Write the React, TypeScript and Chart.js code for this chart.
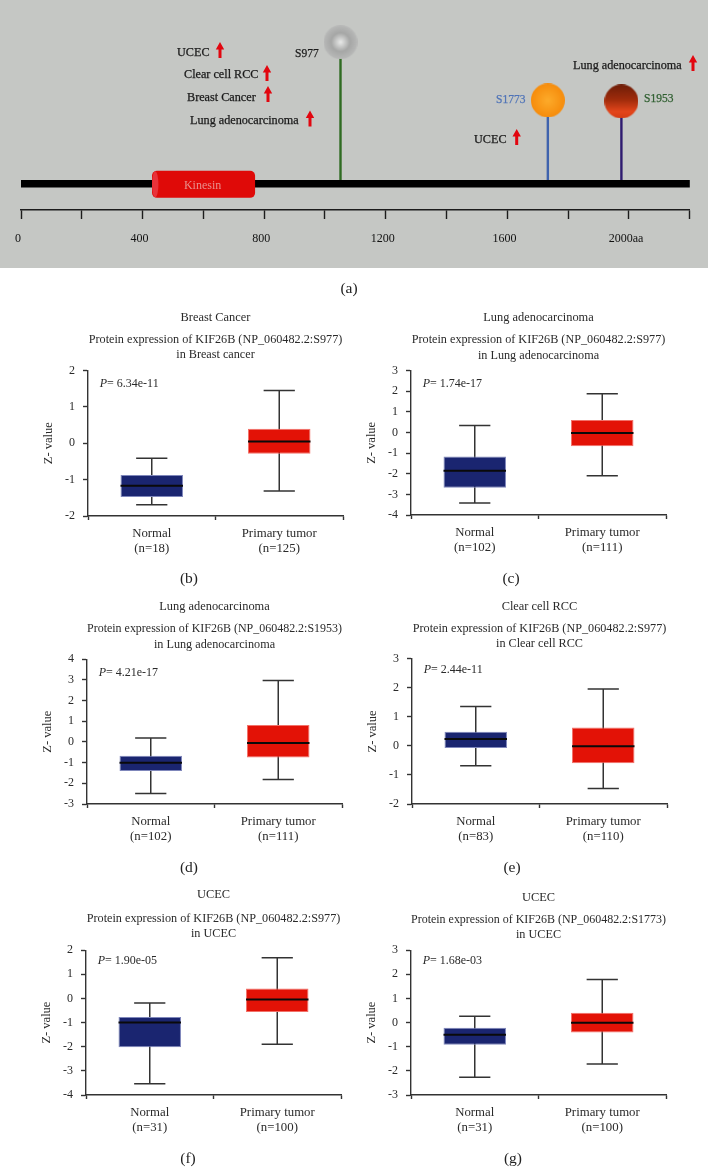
import React, { useEffect, useRef } from "react";
import { Chart, registerables } from "chart.js";

Chart.register(...registerables);

const FONT = "'Liberation Serif', serif";
const INK = "#2a2a2a";

// Panel (a): protein map, amino-acid positions
const kinesinDomain = [431, 770];
const proteinLength = 2200;
const siteNames = ["S977", "S1773", "S1953"];
const sitePositions = [1051, 1733, 1975];
const siteHeights = [141, 83, 82];
const siteStemColors = ["#2f6b22", "#3f63ad", "#2f1b70"];

// Box plots: [lower whisker, Q1, median, Q3, upper whisker]
const categories = ["Normal", "Primary tumor"];
const bNormal = [-1.69, -1.48, -1.17, -0.87, -0.41];
const bTumor = [-1.31, -0.29, 0.05, 0.40, 1.45];
const cNormal = [-3.42, -2.68, -1.85, -1.16, 0.34];
const cTumor = [-2.10, -0.67, -0.02, 0.61, 1.88];
const dNormal = [-2.49, -1.40, -1.01, -0.66, 0.19];
const dTumor = [-1.81, -0.75, -0.05, 0.82, 2.97];
const eNormal = [-0.68, -0.07, 0.24, 0.49, 1.36];
const eTumor = [-1.47, -0.60, -0.01, 0.63, 1.96];
const fNormal = [-3.53, -2.02, -1.0, -0.77, -0.19];
const fTumor = [-1.90, -0.56, -0.04, 0.41, 1.69];
const gNormal = [-2.26, -0.92, -0.50, -0.21, 0.26];
const gTumor = [-1.72, -0.41, -0.01, 0.41, 1.79];

const panels = [
  { name: "Breast Cancer", sub: ["Protein expression of KIF26B (NP_060482.2:S977)", "in Breast cancer"], n: [18, 125], p: "6.34e-11", range: [-2, 2], normal: bNormal, tumor: bTumor,
    L: 88.3, R: 344, T: 370, B: 515.5, t1: 317, s1: 339, s2: 354, pY: 13 },
  { name: "Lung adenocarcinoma", sub: ["Protein expression of KIF26B (NP_060482.2:S977)", "in Lung adenocarcinoma"], n: [102, 111], p: "1.74e-17", range: [-4, 3], normal: cNormal, tumor: cTumor,
    L: 411.3, R: 666.7, T: 369.7, B: 515.3, t1: 317, s1: 339, s2: 355, pY: 13 },
  { name: "Lung adenocarcinoma", sub: ["Protein expression of KIF26B (NP_060482.2:S1953)", "in Lung adenocarcinoma"], n: [102, 111], p: "4.21e-17", range: [-3, 4], normal: dNormal, tumor: dTumor,
    L: 87.3, R: 342.7, T: 658.3, B: 804, t1: 606, s1: 628, s2: 644, pY: 13.7 },
  { name: "Clear cell RCC", sub: ["Protein expression of KIF26B (NP_060482.2:S977)", "in Clear cell RCC"], n: [83, 110], p: "2.44e-11", range: [-2, 3], normal: eNormal, tumor: eTumor,
    L: 412.3, R: 668, T: 658.3, B: 804, t1: 606, s1: 628, s2: 643, pY: 10.7 },
  { name: "UCEC", sub: ["Protein expression of KIF26B (NP_060482.2:S977)", "in UCEC"], n: [31, 100], p: "1.90e-05", range: [-4, 2], normal: fNormal, tumor: fTumor,
    L: 86.3, R: 342, T: 949.7, B: 1095.3, t1: 894, s1: 918, s2: 933, pY: 10.3 },
  { name: "UCEC", sub: ["Protein expression of KIF26B (NP_060482.2:S1773)", "in UCEC"], n: [31, 100], p: "1.68e-03", range: [-3, 3], normal: gNormal, tumor: gTumor,
    L: 411, R: 666.7, T: 949.7, B: 1095.3, t1: 897, s1: 919, s2: 934, pY: 10.3 },
];

const captions = [
  ["(a)", 349, 288], ["(b)", 189, 578], ["(c)", 511, 578], ["(d)", 189, 867],
  ["(e)", 512, 867], ["(f)", 188, 1158], ["(g)", 513, 1158],
] as const;

const annotations = [
  { text: "UCEC", x: 177, y: 52.7, arrow: 220, ay: 42 },
  { text: "Clear cell RCC", x: 184, y: 74.7, arrow: 267, ay: 65 },
  { text: "Breast Cancer", x: 187, y: 97.7, arrow: 268, ay: 86 },
  { text: "Lung adenocarcinoma", x: 190, y: 120.7, arrow: 310, ay: 110.5 },
  { text: "UCEC", x: 474, y: 139.7, arrow: 516.7, ay: 129 },
  { text: "Lung adenocarcinoma", x: 573, y: 65.7, arrow: 693, ay: 55 },
];
const siteLabels = [
  { x: 295, y: 53.5, color: "#1d1d1d" },
  { x: 496, y: 99.5, color: "#5074b8" },
  { x: 644, y: 98.5, color: "#2f5f30" },
];

function headImage(i: number) {
  const r = 17;
  const cv = document.createElement("canvas");
  cv.width = r * 2;
  cv.height = r * 2;
  const ctx = cv.getContext("2d") as CanvasRenderingContext2D;
  let g: CanvasGradient;
  if (i === 0) {
    g = ctx.createRadialGradient(r, r, 0, r, r, r);
    g.addColorStop(0, "#e9eae9");
    g.addColorStop(0.55, "#a6a7a6");
    g.addColorStop(1, "#b8b9b8");
  } else if (i === 1) {
    g = ctx.createRadialGradient(r, r, 0, r, r, r);
    g.addColorStop(0, "#fdab2a");
    g.addColorStop(1, "#f68c0c");
  } else {
    g = ctx.createLinearGradient(0, 0, 0, r * 2);
    g.addColorStop(0, "#6d1d08");
    g.addColorStop(0.45, "#a02c0c");
    g.addColorStop(0.8, "#e4461c");
    g.addColorStop(1, "#d43c14");
  }
  ctx.fillStyle = g;
  ctx.beginPath();
  ctx.arc(r, r, r, 0, Math.PI * 2);
  ctx.fill();
  return cv;
}

const proteinPlugin = {
  id: "protein",
  beforeDraw(chart: any) {
    const ctx = chart.ctx;
    ctx.save();
    ctx.fillStyle = "#c5c7c4";
    ctx.fillRect(0, 0, chart.width, chart.height);
    ctx.restore();
  },
  afterDatasetsDraw(chart: any) {
    const ctx = chart.ctx;
    const x = chart.scales.x;
    const y = chart.scales.y;
    const x0 = x.getPixelForValue(kinesinDomain[0]);
    const x1 = x.getPixelForValue(kinesinDomain[1]);
    const yc = y.getPixelForValue(0) + 0.5;
    ctx.save();
    ctx.fillStyle = "#df0a08";
    ctx.beginPath();
    ctx.roundRect(x0, yc - 13.5, x1 - x0, 27, 5);
    ctx.fill();
    ctx.fillStyle = "#e8323a";
    ctx.beginPath();
    ctx.ellipse(x0 + 3.2, yc, 3.2, 13, 0, 0, Math.PI * 2);
    ctx.fill();
    ctx.font = `12px ${FONT}`;
    ctx.textAlign = "center";
    ctx.textBaseline = "middle";
    ctx.fillStyle = "#e98f8c";
    ctx.fillText("Kinesin", (x0 + x1) / 2 - 1, yc + 1);

    ctx.font = `12.2px ${FONT}`;
    ctx.textAlign = "left";
    ctx.lineWidth = 0.25;
    for (const a of annotations) {
      ctx.fillStyle = "#1a1a1a";
      ctx.strokeStyle = "#1a1a1a";
      ctx.fillText(a.text, a.x, a.y);
      ctx.strokeText(a.text, a.x, a.y);
      ctx.fillStyle = "#e2060f";
      ctx.beginPath();
      ctx.moveTo(a.arrow, a.ay);
      ctx.lineTo(a.arrow + 4.2, a.ay + 7.5);
      ctx.lineTo(a.arrow + 1.5, a.ay + 7.5);
      ctx.lineTo(a.arrow + 1.5, a.ay + 16);
      ctx.lineTo(a.arrow - 1.5, a.ay + 16);
      ctx.lineTo(a.arrow - 1.5, a.ay + 7.5);
      ctx.lineTo(a.arrow - 4.2, a.ay + 7.5);
      ctx.closePath();
      ctx.fill();
    }
    ctx.font = `11.5px ${FONT}`;
    siteNames.forEach((s, i) => {
      ctx.fillStyle = siteLabels[i].color;
      ctx.strokeStyle = siteLabels[i].color;
      ctx.fillText(s, siteLabels[i].x, siteLabels[i].y);
      ctx.strokeText(s, siteLabels[i].x, siteLabels[i].y);
    });
    ctx.restore();
  },
};

const boxPlugin = (pText: string, pY: number) => ({
  id: "box",
  beforeDatasetsDraw(chart: any) {
    const ctx = chart.ctx;
    const y = chart.scales.y;
    const meta = chart.getDatasetMeta(0);
    const stats = chart.data.datasets[0].stats;
    ctx.save();
    ctx.strokeStyle = "#333333";
    ctx.lineWidth = 1.5;
    meta.data.forEach((bar: any, i: number) => {
      const [lo, , , , hi] = stats[i];
      const cap = bar.width / 4;
      const yl = y.getPixelForValue(lo);
      const yh = y.getPixelForValue(hi);
      ctx.beginPath();
      ctx.moveTo(bar.x, yl);
      ctx.lineTo(bar.x, yh);
      ctx.moveTo(bar.x - cap, yl);
      ctx.lineTo(bar.x + cap, yl);
      ctx.moveTo(bar.x - cap, yh);
      ctx.lineTo(bar.x + cap, yh);
      ctx.stroke();
    });
    ctx.restore();
  },
  afterDatasetsDraw(chart: any) {
    const ctx = chart.ctx;
    const y = chart.scales.y;
    const meta = chart.getDatasetMeta(0);
    const stats = chart.data.datasets[0].stats;
    ctx.save();
    ctx.strokeStyle = "#0a0a0a";
    ctx.lineWidth = 2;
    meta.data.forEach((bar: any, i: number) => {
      const ym = y.getPixelForValue(stats[i][2]);
      ctx.beginPath();
      ctx.moveTo(bar.x - bar.width / 2, ym);
      ctx.lineTo(bar.x + bar.width / 2, ym);
      ctx.stroke();
    });
    const { left, top } = chart.chartArea;
    ctx.fillStyle = INK;
    ctx.textBaseline = "middle";
    ctx.textAlign = "left";
    ctx.font = `italic 12px ${FONT}`;
    ctx.fillText("P", left + 11.7, top + pY);
    const w = ctx.measureText("P").width;
    ctx.font = `12px ${FONT}`;
    ctx.fillText("= " + pText, left + 11.7 + w, top + pY);
    ctx.restore();
  },
});

function BoxPanel({ panel }: { panel: (typeof panels)[number] }) {
  const ref = useRef<HTMLCanvasElement>(null);
  const axisW = 50;
  const axisH = 45;
  const lh = 15;
  const canvasTop = panel.t1 - lh / 2;
  const canvasLeft = panel.L - axisW;
  const width = panel.R - canvasLeft + 20;
  const height = panel.B + axisH - canvasTop;
  useEffect(() => {
    const stats = [panel.normal, panel.tumor];
    const chart = new Chart(ref.current as HTMLCanvasElement, {
      type: "bar",
      data: {
        labels: categories.map((c, i) => [c, `(n=${panel.n[i]})`]),
        datasets: [
          {
            data: stats.map((s) => [s[1], s[3]]),
            stats,
            backgroundColor: ["#1a2570", "#e31206"],
            borderColor: ["#7f87bb", "#f2726a"],
            borderWidth: 1,
            borderSkipped: false,
            barPercentage: 0.49,
            categoryPercentage: 1,
          } as any,
        ],
      },
      options: {
        responsive: false,
        animation: false,
        devicePixelRatio: 1,
        layout: { padding: { left: 0, right: 20, top: 0, bottom: 0 } },
        plugins: {
          legend: { display: false },
          tooltip: { enabled: false },
          title: {
            display: true,
            text: panel.name,
            fullSize: false,
            color: INK,
            font: { family: FONT, size: 12.4, weight: "normal", lineHeight: lh / 12.4 },
            padding: { top: 0, bottom: panel.s1 - panel.t1 - lh },
          },
          subtitle: {
            display: true,
            text: panel.sub,
            fullSize: false,
            color: INK,
            font: { family: FONT, size: 12.2, weight: "normal", lineHeight: (panel.s2 - panel.s1) / 12.2 },
            padding: { top: 0, bottom: panel.T - panel.s2 - (panel.s2 - panel.s1) / 2 },
          },
        },
        scales: {
          x: {
            type: "category",
            afterFit: (s: any) => { s.height = axisH; },
            border: { color: "#333333", width: 1.4 },
            grid: { drawOnChartArea: false, tickLength: 4, tickColor: "#333333", tickWidth: 1.4 },
            ticks: { color: INK, padding: 6, maxRotation: 0, font: { family: FONT, size: 12.8, lineHeight: 15 / 12.8 } },
          },
          y: {
            type: "linear",
            min: panel.range[0],
            max: panel.range[1],
            afterFit: (s: any) => { s.width = axisW; },
            border: { color: "#333333", width: 1.4 },
            grid: { drawOnChartArea: false, tickLength: 5, tickColor: "#333333", tickWidth: 1.4 },
            ticks: { stepSize: 1, color: INK, padding: 8, font: { family: FONT, size: 12 } },
            title: { display: true, text: "Z- value", color: INK, padding: { top: 3, bottom: 0 }, font: { family: FONT, size: 12.5 } },
          },
        },
      },
      plugins: [boxPlugin(panel.p, panel.pY)],
    } as any);
    return () => chart.destroy();
  }, []);
  return (
    <canvas
      ref={ref}
      width={width}
      height={height}
      style={{ position: "absolute", left: canvasLeft, top: canvasTop, display: "block" }}
    />
  );
}

function ProteinPanel() {
  const ref = useRef<HTMLCanvasElement>(null);
  useEffect(() => {
    const stems = siteNames.map((name, i) => ({
      type: "line",
      label: name,
      data: [
        { x: sitePositions[i], y: 0 },
        { x: sitePositions[i], y: siteHeights[i] },
      ],
      borderColor: siteStemColors[i],
      borderWidth: 2.4,
      pointRadius: [0, 17],
      pointBorderWidth: 0,
      pointStyle: headImage(i),
      clip: false,
    }));
    const chart = new Chart(ref.current as HTMLCanvasElement, {
      type: "line",
      data: {
        datasets: [
          {
            label: "KIF26B",
            data: [
              { x: 0, y: 0 },
              { x: proteinLength, y: 0 },
            ],
            borderColor: "#000000",
            borderWidth: 7.5,
            pointRadius: 0,
            clip: false,
          },
          ...stems,
        ] as any,
      },
      options: {
        responsive: false,
        animation: false,
        devicePixelRatio: 1,
        layout: { padding: { left: 21, right: 708 - 689.8, top: 0, bottom: 0 } },
        plugins: { legend: { display: false }, tooltip: { enabled: false } },
        scales: {
          x: {
            type: "linear",
            min: 0,
            max: proteinLength,
            afterFit: (s: any) => { s.height = 58; },
            border: { color: "#1c1c1c", width: 1.4 },
            grid: { drawOnChartArea: false, tickLength: 9, tickColor: "#1c1c1c", tickWidth: 1.4 },
            ticks: {
              stepSize: 200,
              autoSkip: false,
              maxRotation: 0,
              labelOffset: -3,
              padding: 13,
              color: "#111111",
              font: { family: FONT, size: 12 },
              callback: (v: any) => (v % 400 === 0 && v <= 2000 ? (v === 2000 ? "2000aa" : String(v)) : ""),
            },
          },
          y: { type: "linear", display: false, min: -26, max: 166 },
        },
      },
      plugins: [proteinPlugin],
    } as any);
    return () => chart.destroy();
  }, []);
  return (
    <canvas ref={ref} width={708} height={268} style={{ position: "absolute", left: 0, top: 0, display: "block" }} />
  );
}

export default function App() {
  return (
    <div style={{ position: "absolute", left: 0, top: 0, width: 708, height: 1167, background: "#fff", overflow: "hidden", fontFamily: FONT }}>
      <ProteinPanel />
      {panels.map((p, i) => (
        <BoxPanel key={i} panel={p} />
      ))}
      {captions.map(([t, x, y]) => (
        <div
          key={t}
          style={{ position: "absolute", left: x, top: y, transform: "translate(-50%,-50%)", willChange: "transform", fontSize: 15.5, color: "#222", lineHeight: 1 }}
        >
          {t}
        </div>
      ))}
    </div>
  );
}
